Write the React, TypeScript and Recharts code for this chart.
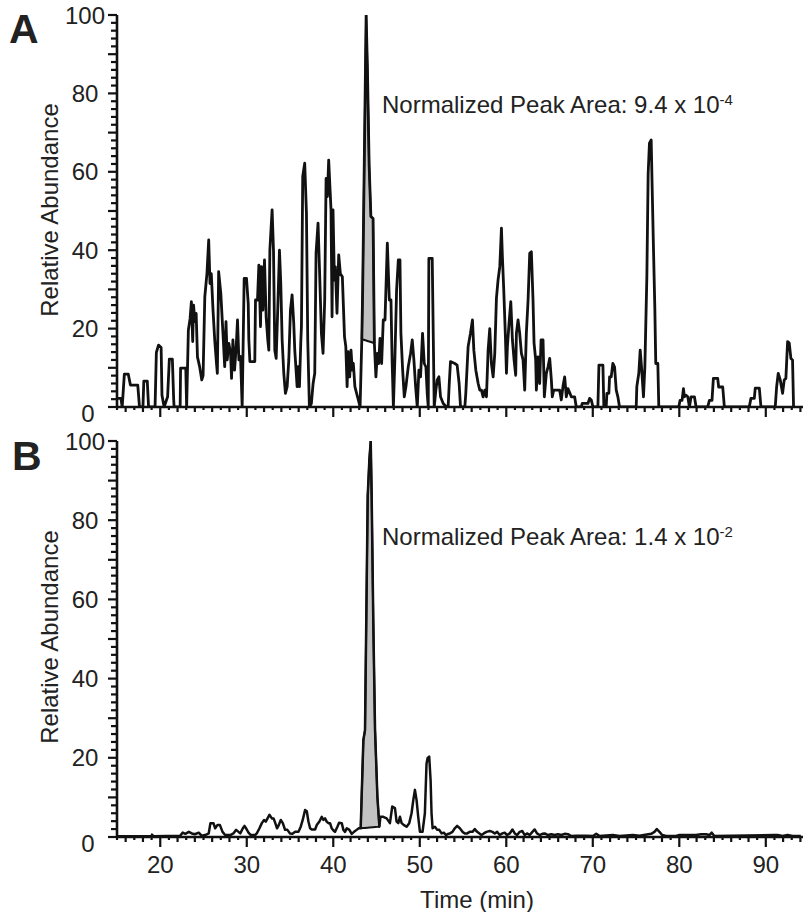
import React from "react";
import { ComposedChart, Line, Area, XAxis, YAxis } from "recharts";

const FONT = '"Liberation Sans", Arial, Helvetica, sans-serif';
const INK = "#111";

// panel A trace: [time (min), relative abundance]
const traceA: [number, number][] = [
  [15.1, 2.2], [15.45, 2.2], [15.6, 0], [15.85, 8.4], [16.3, 8.4], [16.55, 5.6], [17.4, 5.6], [17.6, 0],
  [18.0, 0], [18.1, 6.6], [18.5, 6.6], [18.65, 0], [19.4, 0], [19.55, 13.9], [19.8, 15.8], [20.1, 15.2],
  [20.2, 3], [20.45, 0], [20.85, 2.6], [21.05, 12.2], [21.4, 12.2], [21.55, 2], [21.6, 0], [22.3, 0],
  [22.35, 9.9], [22.95, 9.9], [23.05, 0], [23.25, 19.6], [23.45, 22.6], [23.6, 26.9], [23.75, 16.7],
  [23.85, 26], [24.0, 21.8], [24.15, 23.9], [24.3, 12.8], [24.55, 10.3], [24.8, 6.9], [24.95, 8],
  [25.15, 28.1], [25.4, 34.1], [25.6, 42.6], [25.75, 31.5], [25.9, 34], [26.1, 24.7], [26.3, 17],
  [26.5, 11.1], [26.6, 8.6], [26.75, 34.5], [27.0, 29], [27.25, 18.8], [27.45, 10.3], [27.6, 21.8],
  [27.74, 12], [27.93, 16.2], [28.13, 13.7], [28.24, 7.3], [28.4, 17.1], [28.59, 9.4], [28.78, 15.4],
  [28.93, 22.2], [29.09, 12], [29.28, 12.9], [29.47, 0], [29.7, 32.8], [29.97, 32.8], [30.17, 26.4],
  [30.24, 17.1], [30.36, 11.6], [30.93, 11.6], [31.01, 27.3], [31.24, 27.3], [31.4, 36.2], [31.59, 20.5],
  [31.7, 35.8], [31.86, 24.7], [32.05, 37.5], [32.24, 23], [32.43, 17.1], [32.55, 14.5], [32.67, 40],
  [32.93, 50.3], [33.09, 40], [33.24, 14.5], [33.4, 12.4], [33.59, 25.5], [33.78, 40], [33.93, 31.6],
  [34.09, 17.1], [34.28, 8.6], [34.47, 3.5], [34.67, 5.2], [34.86, 12], [35.05, 24.7], [35.24, 28.6],
  [35.43, 21.4], [35.55, 14.5], [35.7, 9.4], [35.82, 5.2], [35.93, 10.3], [36.09, 5.2], [36.24, 16.2],
  [36.32, 20.5], [36.47, 58.8], [36.7, 62.2], [36.9, 49.4], [37.05, 17.1], [37.24, 0], [37.47, 0.9],
  [37.67, 6], [37.86, 8.6], [38.01, 39.2], [38.24, 46.9], [38.4, 35.8], [38.63, 18.8], [38.82, 13.7],
  [39.01, 27.3], [39.17, 58.3], [39.32, 53.7], [39.47, 63], [39.63, 55.4], [39.74, 50.3], [39.86, 23],
  [39.97, 50.3], [40.13, 32.4], [40.24, 35.8], [40.43, 23.9], [40.63, 38.8], [40.82, 34], [41.05, 33.2],
  [41.3, 17.9], [41.45, 15.4], [41.6, 5.2], [41.72, 14.1], [41.9, 7.7], [42.05, 14.5], [42.2, 9.4],
  [42.32, 11.1], [42.5, 5.2], [42.7, 3.5], [42.9, 1.8], [43.1, 0], [43.3, 17.3], [43.4, 30], [43.8, 100],
  [43.95, 86], [44.15, 61.5], [44.35, 48.6], [44.6, 48.1], [44.75, 16.3], [44.93, 7.7], [45.1, 13.7],
  [45.25, 11.1], [45.4, 17.5], [45.59, 11.1], [45.78, 22.2], [45.98, 22.2], [46.25, 41.8], [46.48, 27.3],
  [46.67, 27.3], [46.8, 12], [46.95, 0], [47.13, 12.8], [47.32, 29.8], [47.52, 37.5], [47.71, 37.5],
  [47.82, 18.8], [48.02, 9.4], [48.21, 2.6], [48.4, 5.2], [48.67, 10.3], [48.94, 13.7], [49.13, 17.1],
  [49.32, 12], [49.52, 5.2], [49.71, 0], [49.9, 9.4], [50.09, 7.7], [50.32, 18.8], [50.52, 11.1],
  [50.71, 10.2], [50.86, 3.5], [50.98, 0], [51.05, 37.9], [51.44, 37.9], [51.67, 0], [51.86, 4.3],
  [52.02, 6.9], [52.21, 7.7], [52.4, 2.6], [52.71, 0.9], [53.09, 0], [53.28, 0], [53.4, 5.6], [53.55, 11.6],
  [54.05, 11.1], [54.32, 10.7], [54.55, 6], [54.71, 0], [55.21, 0], [55.32, 3.5], [55.59, 15.4],
  [55.86, 18.8], [56.09, 22.2], [56.25, 14.5], [56.48, 9.4], [56.75, 6], [56.94, 4.3], [57.13, 4.3],
  [57.32, 2.6], [57.52, 4.3], [57.71, 2.6], [57.9, 14.5], [58.09, 20], [58.28, 11.1], [58.48, 7.7],
  [58.67, 13.7], [58.86, 27.7], [59.05, 32.4], [59.25, 35.8], [59.44, 45.6], [59.55, 38.4], [59.71, 29.8],
  [59.9, 17.9], [60.02, 8.6], [60.13, 15.4], [60.32, 21.4], [60.52, 26.9], [60.71, 17.1], [60.9, 12],
  [61.09, 8.1], [61.17, 18.8], [61.36, 22.2], [61.55, 18.8], [61.75, 13.7], [61.94, 12], [62.13, 4.3],
  [62.32, 18.8], [62.52, 27.3], [62.71, 39.2], [62.9, 39.6], [63.09, 27.3], [63.21, 16.3], [63.4, 12],
  [63.48, 4.3], [63.67, 12.8], [63.86, 6], [64.02, 17.1], [64.25, 17.1], [64.4, 2.6], [64.63, 8.6],
  [64.82, 10.2], [65.02, 12.4], [65.21, 6.9], [65.32, 2.6], [65.48, 4.3], [66.17, 4.3], [66.36, 1.8],
  [66.55, 5.2], [66.75, 7.7], [66.94, 2.6], [67.13, 4.7], [67.52, 2.6], [67.9, 2.6], [68.09, 0],
  [68.67, 0], [68.78, 0.9], [69.44, 0.9], [69.63, 2.2], [69.82, 1.8], [70.02, 0], [70.59, 0], [70.71, 10.7],
  [71.17, 10.7], [71.28, 0], [71.55, 0], [71.63, 3.5], [71.86, 3.5], [71.94, 7.7], [72.13, 7.7],
  [72.32, 11.1], [72.52, 10.2], [72.71, 4.3], [72.9, 2.6], [73.09, 0], [75.02, 0], [75.09, 5.2],
  [75.32, 8.6], [75.48, 14.5], [75.63, 10.3], [75.86, 2.6], [76.02, 10.3], [76.25, 33.2], [76.4, 59.5],
  [76.55, 67.3], [76.75, 68.1], [76.86, 56.4], [77.02, 40], [77.17, 25.5], [77.28, 11.1], [77.52, 11.1],
  [77.63, 0], [79.94, 0], [80.09, 1.7], [80.32, 1.7], [80.48, 4.7], [80.59, 2.6], [80.78, 3], [80.98, 2.6],
  [81.17, 0], [81.36, 2.6], [81.75, 2.6], [81.94, 0], [83.28, 0], [83.48, 1.7], [83.78, 1.7], [83.94, 7.3],
  [84.44, 7.3], [84.55, 5.1], [85.02, 5.1], [85.21, 0], [88.09, 0], [88.28, 2.2], [88.67, 2.2], [88.78, 4.8],
  [89.25, 4.8], [89.44, 0], [91.09, 0], [91.25, 5.1], [91.44, 8.6], [91.67, 6.9], [91.94, 3.5], [92.13, 6.9],
  [92.32, 7.3], [92.52, 16.7], [92.71, 16.3], [92.9, 12.4], [93.09, 12], [93.21, 0],
];

// panel B trace
const traceB: [number, number][] = [
  [15.0, 0.2], [19.0, 0.2], [19.05, 0.6], [19.2, 0.2], [22.3, 0.3], [22.6, 1.1], [22.9, 0.8], [23.3, 1.3],
  [23.65, 0.9], [24.0, 0.7], [24.45, 1.1], [24.8, 0.3], [25.2, 0.5], [25.6, 0.9], [25.8, 3.5], [26.15, 3.5],
  [26.35, 2.2], [26.6, 3.0], [26.9, 3.0], [27.2, 1.3], [27.5, 0.5], [28.1, 0.5], [28.45, 0.9], [28.77, 1.8],
  [29.05, 1.3], [29.25, 0.9], [29.55, 2.2], [29.74, 2.8], [30.0, 1.9], [30.2, 1.1], [30.47, 0.5], [30.97, 0.5],
  [31.16, 0.9], [31.47, 2.2], [31.74, 3.5], [32.0, 4.3], [32.2, 3.9], [32.4, 4.7], [32.62, 5.6], [32.9, 4.7],
  [33.1, 4.7], [33.3, 3.5], [33.5, 2.2], [33.7, 3.0], [33.93, 4.3], [34.17, 3.5], [34.43, 1.8], [34.7, 1.8],
  [35.0, 0.9], [35.28, 0.8], [35.6, 1.3], [35.98, 1.3], [36.24, 2.6], [36.47, 4.3], [36.74, 6.8], [36.94, 6.5],
  [37.13, 3.9], [37.32, 2.2], [37.51, 1.9], [37.9, 1.9], [38.09, 3.0], [38.4, 3.9], [38.67, 5.1], [38.86, 4.3],
  [39.05, 4.7], [39.24, 3.9], [39.44, 3.5], [39.63, 3.5], [39.82, 2.2], [40.0, 1.7], [40.2, 1.3], [40.48, 2.6],
  [40.67, 3.6], [40.98, 3.5], [41.17, 1.8], [41.36, 1.3], [41.56, 2.2], [41.86, 1.8], [42.13, 0.8], [42.4, 1.3],
  [42.7, 1.8], [42.95, 2.2], [43.17, 2.2], [43.48, 24.5], [43.67, 27], [43.98, 86], [44.17, 95.2], [44.33, 100],
  [44.44, 86], [44.63, 54], [44.83, 27], [45.1, 10.2], [45.33, 2.6], [45.45, 5.1], [45.78, 5.1], [46.17, 4.7],
  [46.55, 3.5], [46.82, 7.7], [47.13, 7.3], [47.32, 3.9], [47.52, 3.5], [47.71, 5.1], [47.9, 3.5], [48.17, 3.0],
  [48.48, 2.6], [48.78, 3.5], [49.05, 6.0], [49.25, 9.3], [49.44, 11.9], [49.63, 9.3], [49.82, 5.1], [50.02, 1.3],
  [50.32, 1.3], [50.59, 6.0], [50.78, 18.5], [50.9, 19.9], [51.09, 20.3], [51.25, 14.4], [51.36, 6.0],
  [51.48, 2.2], [51.75, 2.6], [52.02, 1.8], [52.25, 1.8], [52.52, 0.9], [52.78, 1.1], [53.02, 0.5], [53.28, 0.8],
  [53.48, 0.9], [53.78, 1.3], [54.05, 2.2], [54.32, 2.8], [54.63, 2.2], [54.94, 1.3], [55.21, 0.9], [55.48, 0.9],
  [55.78, 1.3], [56.09, 1.3], [56.36, 2.0], [56.63, 1.3], [56.94, 0.8], [57.13, 0.5], [57.4, 0.9], [57.71, 1.3],
  [58.09, 1.5], [58.4, 1.3], [58.67, 0.9], [58.94, 1.3], [59.25, 0.5], [59.55, 0.9], [59.82, 1.1], [60.09, 0.5],
  [60.4, 0.9], [60.71, 1.9], [60.98, 0.9], [61.25, 0.5], [61.55, 1.3], [61.86, 1.5], [62.13, 0.5], [62.4, 0.9],
  [62.71, 0.5], [63.02, 1.3], [63.28, 1.9], [63.55, 0.9], [63.86, 0.5], [64.17, 0.8], [64.44, 0.9], [64.82, 0.5],
  [65.21, 0.7], [65.59, 0.5], [65.98, 0.7], [66.36, 0.5], [66.75, 0.8], [67.13, 0.7], [67.52, 0.25], [68.09, 0.3],
  [69.25, 0.3], [70.02, 0.25], [70.4, 0.8], [70.78, 0.25], [72.32, 0.5], [73.09, 0.25], [74.63, 0.5], [75.4, 0.3],
  [76.75, 0.8], [77.13, 1.3], [77.4, 2.0], [77.71, 1.3], [78.02, 0.5], [78.48, 0.25], [79.63, 0.25], [80.02, 0.5],
  [81.17, 0.5], [81.94, 0.5], [82.52, 0.7], [83.09, 0.7], [83.48, 0.5], [83.75, 1.1], [84.05, 0.25], [90.98, 0.5],
  [91.36, 0.5], [91.94, 0.25], [92.52, 0.5], [93.09, 0.25], [94.05, 0.25],
];

// integrated peak windows: [start, end] times and baseline values there
const peakWindowA = [43.3, 44.75];
const peakBaseA = [17.3, 16.3];
const peakWindowB = [43.17, 45.33];
const peakBaseB = [2.2, 2.6];

const peakAreaA = { mant: "9.4", exp: "-4" };
const peakAreaB = { mant: "1.4", exp: "-2" };

const xTickLabels = [20, 30, 40, 50, 60, 70, 80, 90];
const yTickLabels = [0, 20, 40, 60, 80, 100];
const X_DOMAIN: [number, number] = [15, 94.3];

const xTicks: number[] = [];
for (let i = 15; i <= 94; i++) xTicks.push(i);
const yTicks: number[] = [];
for (let i = 0; i <= 100; i += 2) yTicks.push(i);

function toRows(trace: [number, number][]) {
  return trace.map(([t, v]) => ({ t, v }));
}

function shadeRows(trace: [number, number][], win: number[], base: number[]) {
  return trace
    .filter(([t]) => t >= win[0] - 1e-9 && t <= win[1] + 1e-9)
    .map(([t, v]) => {
      const b = base[0] + ((t - win[0]) / (win[1] - win[0])) * (base[1] - base[0]);
      return { t, shade: [b, v] };
    });
}

const makeXTick = (showLabel: boolean) => (props: any) => {
  const { x, y, payload } = props;
  const v = payload.value;
  const len = v % 10 === 0 ? 10 : v % 2 === 0 ? 5 : 3;
  return (
    <g>
      <line x1={x} x2={x} y1={y} y2={y + len} stroke={INK} strokeWidth={2.2} />
      {showLabel && xTickLabels.includes(v) && (
        <text x={x} y={y + 36} textAnchor="middle" fontSize={24} fontFamily={FONT} fill="#222">
          {v}
        </text>
      )}
    </g>
  );
};

const YTick = (props: any) => {
  const { x, y, payload } = props;
  const v = payload.value;
  const len = v % 10 === 0 ? 9 : 6;
  const isZero = v === 0;
  return (
    <g>
      <line x1={x - len} x2={x} y1={y} y2={y} stroke={INK} strokeWidth={2.2} />
      {yTickLabels.includes(v) && (
        <text
          x={x - 32 + (isZero ? 3 : 0)}
          y={y + (isZero ? 6 : 0)}
          textAnchor="middle"
          dominantBaseline="central"
          fontSize={24}
          fontFamily={FONT}
          fill="#222"
        >
          {v}
        </text>
      )}
    </g>
  );
};

function Panel({ trace, win, base, height, top, marginTop, xHeight, labels, lineWidth }: any) {
  const rows = toRows(trace);
  const shade = shadeRows(trace, win, base);
  return (
    <div style={{ position: "absolute", left: 0, top, width: 804, height }}>
      <ComposedChart width={804} height={height} data={rows} margin={{ top: marginTop, right: 1, left: 0, bottom: 0 }}>
        <XAxis
          type="number"
          dataKey="t"
          domain={X_DOMAIN}
          allowDataOverflow
          ticks={xTicks}
          interval={0}
          tick={makeXTick(labels)}
          tickLine={false}
          tickSize={0}
          tickMargin={0}
          height={xHeight}
          axisLine={{ stroke: INK, strokeWidth: 2.6 }}
        />
        <YAxis
          type="number"
          domain={[0, 100]}
          allowDataOverflow
          ticks={yTicks}
          interval={0}
          tick={YTick}
          tickLine={false}
          tickSize={0}
          tickMargin={0}
          width={117}
          axisLine={{ stroke: INK, strokeWidth: 2.6 }}
        />
        <Area
          data={shade}
          dataKey="shade"
          type="linear"
          fill="#c2c2c2"
          fillOpacity={1}
          stroke={INK}
          strokeWidth={2}
          dot={false}
          activeDot={false}
          isAnimationActive={false}
        />
        <Line
          dataKey="v"
          type="linear"
          stroke={INK}
          strokeWidth={lineWidth}
          strokeLinejoin="round"
          dot={false}
          activeDot={false}
          isAnimationActive={false}
        />
      </ComposedChart>
    </div>
  );
}

function Annotation({ x, y, area }: any) {
  return (
    <text x={x} y={y} fontSize={24} fontFamily={FONT} fill="#222">
      {`Normalized Peak Area: ${area.mant} x 10`}
      <tspan dy={-8} fontSize={15}>
        {area.exp}
      </tspan>
    </text>
  );
}

export default function App() {
  return (
    <div style={{ position: "absolute", left: 0, top: 0, width: 804, height: 912, background: "#fff" }}>
      <Panel trace={traceA} win={peakWindowA} base={peakBaseA} top={0} marginTop={15} height={430} xHeight={23} labels={false} lineWidth={2.8} />
      <Panel trace={traceB} win={peakWindowB} base={peakBaseB} top={420} marginTop={21} height={492} xHeight={75} labels={true} lineWidth={2.5} />
      <svg
        width={804}
        height={912}
        style={{ position: "absolute", left: 0, top: 0, pointerEvents: "none" }}
      >
        <text x={9} y={43} fontSize={41} fontWeight="bold" fontFamily={FONT} fill="#222">A</text>
        <text x={12} y={470} fontSize={41} fontWeight="bold" fontFamily={FONT} fill="#222">B</text>
        <text
          x={58}
          y={210}
          transform="rotate(-90 58 210)"
          textAnchor="middle"
          fontSize={24}
          fontFamily={FONT}
          fill="#222"
        >
          Relative Abundance
        </text>
        <text
          x={58}
          y={637}
          transform="rotate(-90 58 637)"
          textAnchor="middle"
          fontSize={24}
          fontFamily={FONT}
          fill="#222"
        >
          Relative Abundance
        </text>
        <Annotation x={382} y={113} area={peakAreaA} />
        <Annotation x={382} y={545} area={peakAreaB} />
        <text x={477} y={908} textAnchor="middle" fontSize={24} fontFamily={FONT} fill="#222">
          Time (min)
        </text>
      </svg>
    </div>
  );
}
